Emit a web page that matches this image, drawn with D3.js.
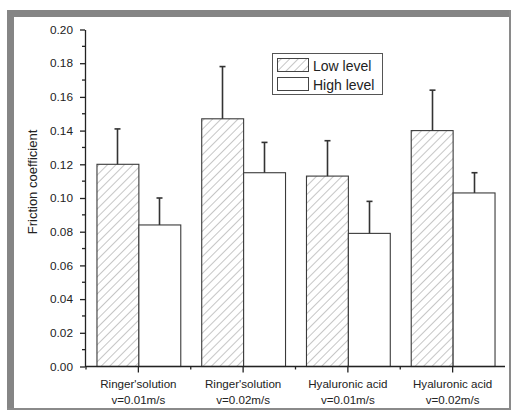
<!DOCTYPE html>
<html>
<head>
<meta charset="utf-8">
<script src="https://cdn.jsdelivr.net/npm/d3@7"></script>
<style>
  html, body { margin: 0; padding: 0; background: #fff; }
  svg { display: block; font-family: "Liberation Sans", Arial, sans-serif; }
</style>
</head>
<body>
<svg id="chart" width="513" height="412"></svg>
<script>
// Friction coefficient by lubricant and sliding speed
const categories = [
  ["Ringer'solution", "v=0.01m/s"],
  ["Ringer'solution", "v=0.02m/s"],
  ["Hyaluronic acid", "v=0.01m/s"],
  ["Hyaluronic acid", "v=0.02m/s"]
];
const seriesNames = ["Low level", "High level"];
const lowLevel = [0.120, 0.147, 0.113, 0.140];
const lowLevelErr = [0.021, 0.031, 0.021, 0.024];
const highLevel = [0.084, 0.115, 0.079, 0.103];
const highLevelErr = [0.016, 0.018, 0.019, 0.012];
const yTicks = [0, 0.02, 0.04, 0.06, 0.08, 0.10, 0.12, 0.14, 0.16, 0.18, 0.20];
const yMinorTicks = [0.01, 0.03, 0.05, 0.07, 0.09, 0.11, 0.13, 0.15, 0.17, 0.19];

const svg = d3.select("#chart");

// frame
const frame = svg.append("g");
frame.append("rect").attr("x", 7).attr("y", 10).attr("width", 504).attr("height", 7).attr("fill", "#858585");
frame.append("rect").attr("x", 7).attr("y", 10).attr("width", 7).attr("height", 400).attr("fill", "#858585");
frame.append("rect").attr("x", 509).attr("y", 10).attr("width", 2).attr("height", 400).attr("fill", "#8a8a8a");
frame.append("rect").attr("x", 7).attr("y", 408).attr("width", 504).attr("height", 2).attr("fill", "#8a8a8a");

const x0 = 85, x1 = 505;
const y = d3.scaleLinear().domain([0, 0.2]).range([366.5, 29.5]);
const x = d3.scaleBand().domain(d3.range(categories.length)).range([86, 505]).padding(0);
const sub = d3.scaleBand().domain(seriesNames).range([0, x.bandwidth() * 0.8]);
const offset = x.bandwidth() * 0.1;

// hatch pattern
const defs = svg.append("defs");
const pat = defs.append("pattern")
  .attr("id", "hatch").attr("patternUnits", "userSpaceOnUse")
  .attr("width", 6).attr("height", 6)
  .attr("patternTransform", "rotate(45)");
pat.append("line").attr("x1", 0).attr("y1", 0).attr("x2", 0).attr("y2", 6)
  .attr("stroke", "#808080").attr("stroke-width", 0.9);

const series = [
  { name: "Low level", values: lowLevel, err: lowLevelErr, fill: "url(#hatch)" },
  { name: "High level", values: highLevel, err: highLevelErr, fill: "#fff" }
];

const bars = svg.append("g");
series.forEach(s => {
  s.values.forEach((v, i) => {
    const bx = x(i) + offset + sub(s.name);
    const bw = sub.bandwidth();
    bars.append("rect")
      .attr("x", bx + 0.5).attr("y", y(v))
      .attr("width", bw).attr("height", y(0) - y(v))
      .attr("fill", s.fill).attr("stroke", "#3a3a3a").attr("stroke-width", 1.1);
    const cx = Math.round(bx + bw / 2) + 0.5;
    bars.append("line")
      .attr("x1", cx).attr("x2", cx)
      .attr("y1", y(v)).attr("y2", y(v + s.err[i]))
      .attr("stroke", "#333").attr("stroke-width", 1.6);
    bars.append("line")
      .attr("x1", cx - 3).attr("x2", cx + 3)
      .attr("y1", y(v + s.err[i])).attr("y2", y(v + s.err[i]))
      .attr("stroke", "#333").attr("stroke-width", 1.6);
  });
});

// y axis
const yAxis = svg.append("g").attr("transform", `translate(${x0},0)`)
  .call(d3.axisLeft(y).tickValues(yTicks).tickFormat(d3.format(".2f")).tickSizeInner(5).tickSizeOuter(0));
yAxis.selectAll("text").attr("font-size", 11.8).attr("fill", "#222").attr("x", -12);
yAxis.select(".domain").attr("stroke", "#222").attr("stroke-width", 1.3);
yAxis.selectAll(".tick line").attr("stroke", "#222").attr("stroke-width", 1.3);
yAxis.selectAll(".minor").data(yMinorTicks).enter().append("line")
  .attr("x1", -3).attr("x2", 0).attr("y1", d => y(d)).attr("y2", d => y(d))
  .attr("stroke", "#222").attr("stroke-width", 1.3);

// x axis
const xAxisG = svg.append("g").attr("transform", `translate(0,${y(0)})`);
xAxisG.append("line").attr("x1", x0).attr("x2", x1).attr("y1", 0).attr("y2", 0)
  .attr("stroke", "#222").attr("stroke-width", 1.3);
categories.forEach((c, i) => {
  const cx = x(i) + x.bandwidth() / 2;
  xAxisG.append("line").attr("x1", cx).attr("x2", cx).attr("y1", 0).attr("y2", 6)
    .attr("stroke", "#222").attr("stroke-width", 1.3);
  xAxisG.append("line").attr("x1", x(i)).attr("x2", x(i)).attr("y1", 0).attr("y2", 3)
    .attr("stroke", "#222").attr("stroke-width", 1.3);
  const t = xAxisG.append("text").attr("text-anchor", "middle")
    .attr("font-size", 11.6).attr("fill", "#222");
  t.append("tspan").attr("x", cx).attr("y", 21).text(c[0]);
  t.append("tspan").attr("x", cx).attr("y", 37).text(c[1]);
});

// y label
svg.append("text")
  .attr("transform", "translate(37,182) rotate(-90)")
  .attr("text-anchor", "middle").attr("font-size", 13).attr("fill", "#222")
  .text("Friction coefficient");

// legend
const lg = svg.append("g");
lg.append("rect").attr("x", 272.5).attr("y", 53.5).attr("width", 110).attr("height", 41)
  .attr("fill", "#fff").attr("stroke", "#555").attr("stroke-width", 1);
series.forEach((s, i) => {
  lg.append("rect").attr("x", 277.5).attr("y", 58.5 + i * 19).attr("width", 31).attr("height", 13)
    .attr("fill", s.fill).attr("stroke", "#444").attr("stroke-width", 1);
  lg.append("text").attr("x", 313).attr("y", 70.5 + i * 19)
    .attr("font-size", 14).attr("fill", "#222").text(s.name);
});
</script>
</body>
</html>
